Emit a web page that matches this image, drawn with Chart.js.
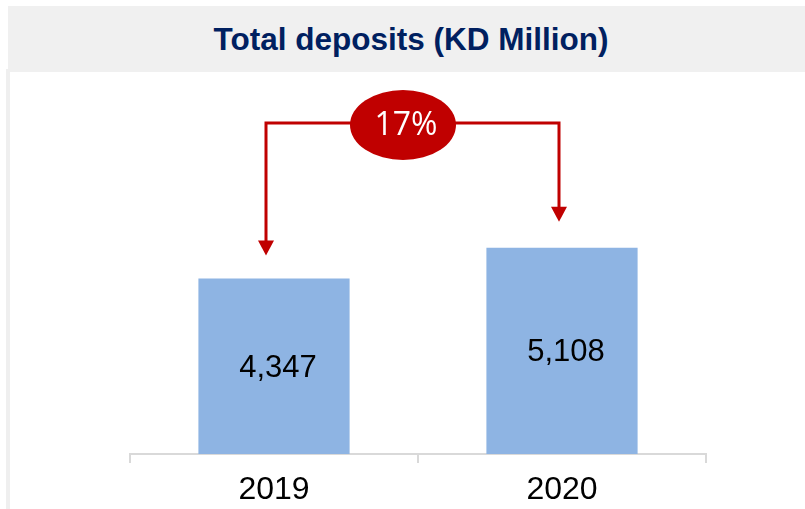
<!DOCTYPE html>
<html>
<head>
<meta charset="utf-8">
<script src="https://cdn.jsdelivr.net/npm/chart.js@4.4.0/dist/chart.umd.min.js"></script>
<style>
  body { margin: 0; background: #fff; }
  #wrap { position: relative; width: 805px; height: 509px; overflow: hidden; }
  #band { position: absolute; left: 8px; top: 6px; width: 797px; height: 66px; background: #f0f0f0;
          font: bold 31.5px "Liberation Sans", Arial, sans-serif; color: #002060;
          line-height: 66px; text-align: center; box-sizing: border-box; padding-left: 9px; }
  #side { position: absolute; left: 6px; top: 69px; width: 4px; height: 440px; background: #efefef; }
  #grafico { position: absolute; left: 0; top: 0; }
</style>
</head>
<body>
<div id="wrap">
  <div id="band">Total deposits (KD Million)</div>
  <div id="side"></div>
  <canvas id="grafico" width="805" height="509"></canvas>
</div>
<script>
// dati
var anni = ['2019', '2020'];
var depositi = [4347, 5108];
var crescita = '17%';

// frecce rosse + ellisse + etichette dentro le barre
var decorazioni = {
  id: 'decorazioni',
  afterDatasetsDraw: function(chart) {
    var ctx = chart.ctx;
    var bars = chart.getDatasetMeta(0).data;
    ctx.save();

    // etichette valori
    ctx.fillStyle = '#000';
    ctx.font = '31px "Liberation Sans", Arial, sans-serif';
    ctx.textAlign = 'center';
    ctx.textBaseline = 'middle';
    bars.forEach(function(b, i) {
      ctx.fillText(depositi[i].toLocaleString('en-US'), b.x + 4, (b.y + b.base) / 2 + 2);
    });

    // frecce
    var red = '#c00000';
    var lineY = 123;
    var x1 = bars[0].x - 8, tip1 = bars[0].y - 23;
    var x2 = bars[1].x - 3, tip2 = bars[1].y - 26;
    ctx.strokeStyle = red;
    ctx.lineWidth = 3;
    ctx.beginPath();
    ctx.moveTo(x1, tip1 - 14);
    ctx.lineTo(x1, lineY);
    ctx.lineTo(x2, lineY);
    ctx.lineTo(x2, tip2 - 14);
    ctx.stroke();
    ctx.fillStyle = red;
    [[x1, tip1], [x2, tip2]].forEach(function(p) {
      ctx.beginPath();
      ctx.moveTo(p[0] - 8, p[1] - 15);
      ctx.lineTo(p[0] + 8, p[1] - 15);
      ctx.lineTo(p[0], p[1]);
      ctx.closePath();
      ctx.fill();
    });

    // ellisse
    var cx = 403, cy = 125;
    ctx.beginPath();
    ctx.ellipse(cx, cy, 53, 35, 0, 0, Math.PI * 2);
    ctx.fill();
    ctx.fillStyle = '#fff';
    ctx.font = '32px "Open Sans", sans-serif';
    ctx.fillText(crescita, cx + 3, cy + 1);
    ctx.restore();
  }
};

var ctx = document.getElementById('grafico');
var chart = new Chart(ctx, {
  type: 'bar',
  data: {
    labels: anni,
    datasets: [{
      data: depositi,
      backgroundColor: '#8eb4e3',
      borderWidth: 0,
      categoryPercentage: 1,
      barPercentage: 0.525
    }]
  },
  options: {
    responsive: false,
    animation: false,
    layout: { padding: { left: 130, right: 99, top: 131, bottom: 0 } },
    plugins: { legend: { display: false }, tooltip: { enabled: false } },
    scales: {
      y: { display: false, min: 0, max: 8000 },
      x: {
        afterFit: function(s) { s.height = 55; },
        grid: { drawOnChartArea: false, tickLength: 9, color: '#d9d9d9', lineWidth: 2 },
        border: { color: '#d9d9d9', width: 2 },
        ticks: { color: '#000', padding: 8, font: { family: '"Liberation Sans", Arial, sans-serif', size: 32 } }
      }
    }
  },
  plugins: [decorazioni]
});
</script>
</body>
</html>
